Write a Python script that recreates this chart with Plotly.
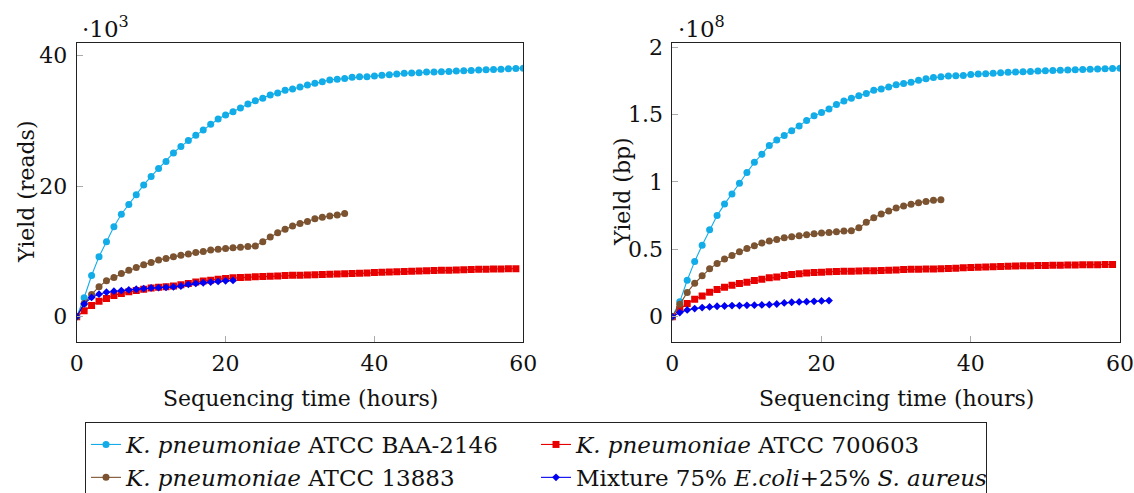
import plotly.graph_objects as go

# ---------------- data ----------------
hours_cyan = list(range(0, 61))
hours_red = list(range(0, 60))
hours_brown = list(range(0, 37))
hours_blue = list(range(0, 22))

# Yield (reads), in thousands
reads_cyan = [0, 2.9, 6.3, 9.2, 11.5, 13.8, 15.7, 17.2, 18.7, 20.2, 21.5, 22.7, 23.8, 25.1, 26.1,
              27.0, 27.8, 28.6, 29.5, 30.3, 30.9, 31.4, 32.0, 32.6, 33.1, 33.5, 34.0, 34.3, 34.7,
              34.9, 35.2, 35.5, 35.8, 36.0, 36.3, 36.4, 36.5, 36.7, 36.8, 36.8, 36.9, 37.0, 37.1,
              37.2, 37.3, 37.35, 37.4, 37.5, 37.5, 37.55, 37.6, 37.65, 37.7, 37.75, 37.8, 37.85,
              37.9, 37.95, 38.0, 38.05, 38.1]
reads_red = [0, 0.9, 1.7, 2.35, 2.8, 3.25, 3.55, 3.8, 4.0, 4.2, 4.4, 4.5, 4.6, 4.7, 4.9, 5.1, 5.3,
             5.45, 5.6, 5.75, 5.85, 5.95, 6.0, 6.05, 6.1, 6.15, 6.2, 6.25, 6.3, 6.33, 6.36, 6.4,
             6.43, 6.46, 6.5, 6.53, 6.56, 6.6, 6.65, 6.7, 6.75, 6.8, 6.85, 6.9, 6.93, 6.96, 7.0,
             7.03, 7.06, 7.1, 7.13, 7.16, 7.19, 7.22, 7.25, 7.28, 7.3, 7.32, 7.34, 7.36]
reads_brown = [0, 2.0, 3.4, 4.6, 5.5, 6.0, 6.6, 7.1, 7.55, 7.95, 8.3, 8.7, 8.9, 9.2, 9.4, 9.6,
               9.85, 10.0, 10.2, 10.35, 10.45, 10.55, 10.65, 10.75, 10.85, 11.5, 12.2, 12.85,
               13.4, 13.9, 14.3, 14.6, 15.0, 15.25, 15.45, 15.6, 15.8]
reads_blue = [0, 1.95, 2.95, 3.45, 3.75, 3.9, 4.0, 4.1, 4.2, 4.3, 4.4, 4.45, 4.5, 4.55, 4.7, 4.95,
              5.1, 5.2, 5.3, 5.4, 5.5, 5.55]

# Yield (bp), in units of 1e8
bp_cyan = [0, 0.11, 0.27, 0.41, 0.53, 0.645, 0.75, 0.835, 0.91, 0.99, 1.07, 1.145, 1.205, 1.27,
           1.31, 1.345, 1.38, 1.415, 1.455, 1.49, 1.515, 1.54, 1.575, 1.6, 1.62, 1.64, 1.655,
           1.68, 1.69, 1.705, 1.72, 1.73, 1.74, 1.755, 1.765, 1.775, 1.78, 1.785, 1.787, 1.79,
           1.797, 1.80, 1.803, 1.806, 1.81, 1.813, 1.815, 1.817, 1.82, 1.822, 1.824, 1.826,
           1.828, 1.83, 1.832, 1.834, 1.836, 1.838, 1.84, 1.842, 1.844]
bp_red = [0, 0.055, 0.097, 0.129, 0.154, 0.181, 0.201, 0.218, 0.233, 0.246, 0.256, 0.268, 0.278,
          0.288, 0.295, 0.305, 0.313, 0.318, 0.323, 0.328, 0.33, 0.333, 0.335, 0.336, 0.337,
          0.338, 0.34, 0.341, 0.343, 0.345, 0.347, 0.349, 0.351, 0.352, 0.353, 0.354, 0.355,
          0.357, 0.359, 0.362, 0.364, 0.366, 0.368, 0.37, 0.372, 0.374, 0.376, 0.377, 0.378,
          0.379, 0.38, 0.381, 0.382, 0.383, 0.384, 0.385, 0.386, 0.386, 0.387, 0.387]
bp_brown = [0, 0.092, 0.18, 0.248, 0.303, 0.355, 0.395, 0.427, 0.454, 0.481, 0.506, 0.526, 0.546,
            0.561, 0.573, 0.586, 0.593, 0.6, 0.608, 0.615, 0.62, 0.625, 0.63, 0.635, 0.638,
            0.66, 0.70, 0.734, 0.762, 0.784, 0.806, 0.821, 0.834, 0.846, 0.854, 0.864, 0.868]
bp_blue = [0, 0.03, 0.05, 0.06, 0.067, 0.072, 0.077, 0.079, 0.082, 0.082, 0.084, 0.085, 0.087,
           0.089, 0.094, 0.102, 0.107, 0.109, 0.111, 0.114, 0.117, 0.119]

series_names = [
    "<i>K. pneumoniae</i> ATCC BAA-2146",
    "<i>K. pneumoniae</i> ATCC 700603",
    "<i>K. pneumoniae</i> ATCC 13883",
    "Mixture 75% <i>E.coli</i>+25% <i>S. aureus</i>",
]
x_ticks = [0, 20, 40, 60]
reads_ticks = [0, 20, 40]
bp_ticks = [0, 0.5, 1, 1.5, 2]
bp_tick_text = ["0", "0.5", "1", "1.5", "2"]

# ---------------- style ----------------
W, H = 1134, 493
FONT = "DejaVu Serif"
colors = ["#12ACE8", "#E80000", "#7B5330", "#0000F2"]
symbols = ["circle", "square", "circle", "diamond"]
msizes = [7, 7, 7, 6]

fig = go.Figure()

left_sets = [(hours_cyan, reads_cyan), (hours_red, reads_red), (hours_brown, reads_brown), (hours_blue, reads_blue)]
right_sets = [(hours_cyan, bp_cyan), (hours_red, bp_red), (hours_brown, bp_brown), (hours_blue, bp_blue)]

for i, (xs, ys) in enumerate(left_sets):
    fig.add_trace(go.Scatter(x=xs, y=ys, mode="lines+markers", name=series_names[i],
                             line=dict(color=colors[i], width=1.1),
                             marker=dict(symbol=symbols[i], size=msizes[i], color=colors[i]),
                             xaxis="x", yaxis="y", showlegend=True))
for i, (xs, ys) in enumerate(right_sets):
    fig.add_trace(go.Scatter(x=xs, y=ys, mode="lines+markers", name=series_names[i],
                             line=dict(color=colors[i], width=1.1),
                             marker=dict(symbol=symbols[i], size=msizes[i], color=colors[i]),
                             xaxis="x2", yaxis="y2", showlegend=False))

def px(x):
    return x / W

def py(y):
    return 1 - y / H

ydom = [py(341.5), py(43.3)]
axis_common = dict(showline=True, linecolor="#222", linewidth=1, mirror=True,
                   ticks="inside", ticklen=6, tickcolor="#aaa", tickwidth=1,
                   showgrid=False, zeroline=False, ticklabeloverflow="allow",
                   tickfont=dict(family=FONT, size=22, color="#111"))

fig.update_layout(
    width=W, height=H,
    margin=dict(l=0, r=0, t=0, b=0, autoexpand=False),
    paper_bgcolor="white", plot_bgcolor="white",
    font=dict(family=FONT, size=22, color="#111"),
    xaxis=dict(domain=[px(76.7), px(523.3)], range=[0, 60], tickvals=x_ticks, anchor="y",
               ticklabelstandoff=2, **axis_common),
    yaxis=dict(domain=ydom, range=[-3.81, 41.91], tickvals=reads_ticks, anchor="x",
               ticklabelstandoff=4, **axis_common),
    xaxis2=dict(domain=[px(672.3), px(1120)], range=[0, 60], tickvals=x_ticks, anchor="y2",
                ticklabelstandoff=2, **axis_common),
    yaxis2=dict(domain=ydom, range=[-0.1844, 2.0284], tickvals=bp_ticks, ticktext=bp_tick_text,
                anchor="x2", ticklabelstandoff=4, **axis_common),
    legend=dict(orientation="h", x=px(85), y=py(422), xanchor="left", yanchor="top",
                bordercolor="#222", borderwidth=1, bgcolor="white",
                font=dict(family=FONT, size=23, color="#111"),
                entrywidth=405, entrywidthmode="pixels", tracegroupgap=0,
                itemsizing="trace"),
)

ann_font = dict(family=FONT, size=22, color="#111")
annotations = [
    dict(text="Sequencing time (hours)", x=px(300), y=py(398)),
    dict(text="Sequencing time (hours)", x=px(896), y=py(398)),
    dict(text="Yield (reads)", x=px(26), y=py(192), textangle=-90),
    dict(text="Yield (bp)", x=px(622), y=py(192), textangle=-90),
]
for a in annotations:
    fig.add_annotation(xref="paper", yref="paper", showarrow=False, font=ann_font,
                       xanchor="center", yanchor="middle", **a)
fig.add_annotation(text="·10<sup>3</sup>", xref="paper", yref="paper", x=px(80), y=py(27),
                   xanchor="left", yanchor="middle", showarrow=False,
                   font=dict(family=FONT, size=23, color="#111"))
fig.add_annotation(text="·10<sup>8</sup>", xref="paper", yref="paper", x=px(676), y=py(27),
                   xanchor="left", yanchor="middle", showarrow=False,
                   font=dict(family=FONT, size=23, color="#111"))

fig.write_html("out.html", config={"displayModeBar": False},
               post_script="document.body.style.margin='0';")
